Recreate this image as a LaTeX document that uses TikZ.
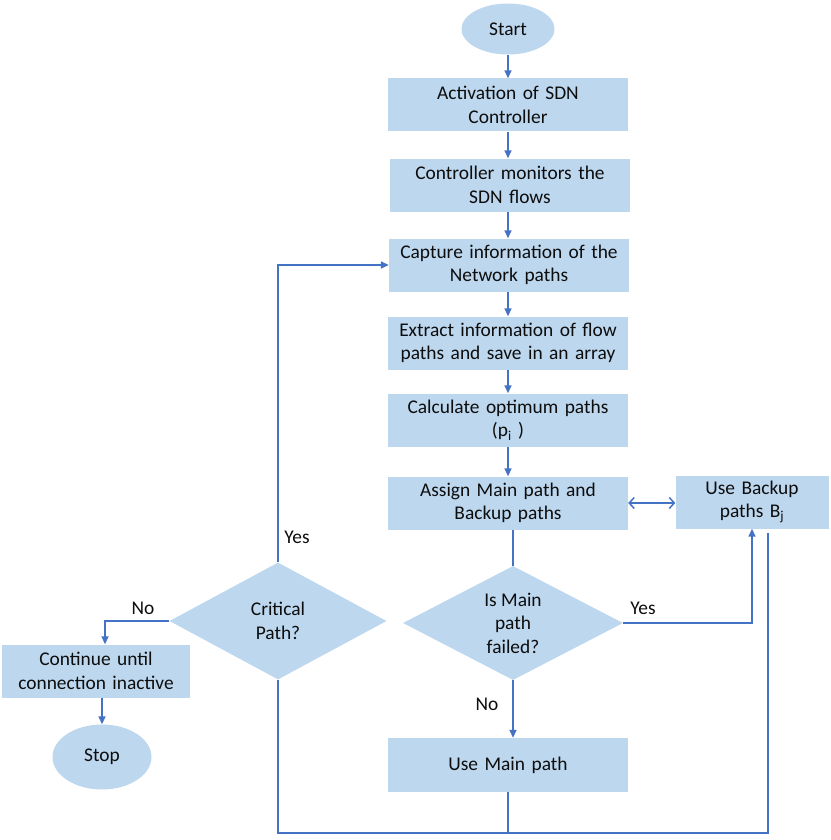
\documentclass[tikz,border=0pt]{standalone}
\usepackage{fontspec}
\setmainfont{Carlito}
\usetikzlibrary{shapes.geometric,arrows.meta}
\definecolor{boxblue}{HTML}{BDD7EE}
\definecolor{lineblue}{HTML}{4472C4}
\begin{document}
\begin{tikzpicture}[x=1pt,y=-1pt,
  every node/.style={text=black!95, font=\fontsize{19.4}{23.5}\selectfont},
  box/.style={rectangle, fill=boxblue, text width=#1, align=center, minimum height=53pt, inner sep=2pt},
  startstop/.style={ellipse, fill=boxblue, inner sep=0pt},
  decision/.style={diamond, fill=boxblue, align=center, aspect=2, inner sep=0pt},
  link/.style={draw=lineblue, line width=1.5pt},
  arr/.style={link, -{Triangle[length=8pt,width=7pt]}},
  both/.style={link, {Straight Barb[length=5pt,width=11pt]}-{Straight Barb[length=5pt,width=11pt]}}]
\useasboundingbox (0,0) rectangle (830,840);
% main column
\node [startstop, minimum width=93pt, minimum height=51pt] (start) at (508,29) {Start};
\node [box=236pt] (act) at (508,105) {Activation of SDN\\Controller};
\node [box=236pt] (mon) at (510,185) {Controller monitors the\\SDN flows};
\node [box=236pt] (cap) at (509,265) {Capture information of the\\Network paths};
\node [box=236pt] (ext) at (508,343) {Extract information of flow\\paths and save in an array};
\node [box=236pt] (calc) at (508,420) {Calculate optimum paths\\(p\textsubscript{i} )};
\node [box=236pt] (assign) at (508,503) {Assign Main path and\\Backup paths};
\node [box=149pt] (backup) at (752,502) {Use Backup\\paths B\textsubscript{j}};
\node [decision, minimum width=220pt, minimum height=114pt] (fail) at (513,623) {Is Main\\path\\failed?};
\node [box=236pt, minimum height=54pt] (mainp) at (508,765) {Use Main path};
% left part
\node [decision, minimum width=217pt, minimum height=117pt] (crit) at (278,621) {Critical\\Path?};
\node [box=184pt] (cont) at (96,671) {Continue until\\connection inactive};
\node [startstop, minimum width=99pt, minimum height=65pt] (stop) at (102,757) {Stop};
% labels
\node (yescrit) at (297,537) {Yes};
\node (nocrit) at (143,608) {No};
\node (yesfail) at (643,608) {Yes};
\node (nofail) at (487,704) {No};
\coordinate (loop) at (278,833);
% connectors
\draw [arr] (start) -- (act);
\draw [arr] (act) -- (mon.north -| act);
\draw [arr] (mon.south -| act) -- (cap.north -| act);
\draw [arr] (cap.south -| act) -- (ext);
\draw [arr] (ext) -- (calc);
\draw [arr] (calc) -- (assign);
\draw [both] (assign) -- (backup.west |- assign);
\draw [link] (assign.south -| fail) -- (fail.north);
\draw [arr] (fail.east) -| (backup.south);
\draw [arr] (fail.south) -- (mainp.north -| fail);
\draw [link] ([xshift=16pt,yshift=-4pt]backup.south) |- (loop) -- (crit.south);
\draw [link] (mainp.south) -- (mainp.south |- loop);
\draw [arr] (crit.north) |- (cap.west);
\draw [arr] (crit.west) -| ([xshift=9pt]cont.north);
\draw [arr] (cont.south -| stop) -- (stop.north);
\end{tikzpicture}
\end{document}
